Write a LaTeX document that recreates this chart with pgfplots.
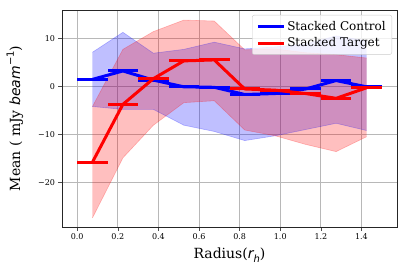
\documentclass[border=0pt]{standalone}
\usepackage{pgfplots}
\usepackage{pgfplotstable}
\pgfplotsset{compat=1.18}
\usepgfplotslibrary{fillbetween}
\usepackage{fontspec}
\setmainfont{DejaVu Serif}
\newfontfamily\dvs{DejaVu Sans}

\pgfplotstableread{
x mean upper lower
0.075  1.45  7.1  -4.2
0.225  3.2  11.25 -4.8
0.375  1.3   6.9  -4.8
0.525 -0.1   7.7  -8.1
0.675 -0.2   9.2  -9.4
0.825 -1.7   7.8 -11.3
0.975 -1.5   8.2 -10.3
1.125 -0.55  8.8  -9.0
1.275  1.2  10.5  -7.7
1.425 -0.1   9.5  -9.2
}\control

\pgfplotstableread{
x mean upper lower
0.075 -15.8  -4.2 -27.4
0.225  -3.75  7.7 -14.9
0.375   1.6  11.4  -8.1
0.525   5.3  13.8  -3.4
0.675   5.5  13.6  -3.0
0.825  -0.55  7.6  -9.1
0.975  -0.8   7.8 -10.3
1.125  -1.5   7.0 -12.1
1.275  -2.5   6.6 -13.6
1.425  -0.3   5.9 -10.5
}\target

\begin{document}
\begin{tikzpicture}
\begin{axis}[
  scale only axis,
  width=335pt, height=217pt,
  xmin=-0.075, xmax=1.575,
  ymin=-29.3, ymax=15.9,
  xtick={0,0.2,0.4,0.6,0.8,1.0,1.2,1.4},
  xticklabels={0.0,0.2,0.4,0.6,0.8,1.0,1.2,1.4},
  ytick={-20,-10,0,10},
  yticklabels={−20,−10,0,10},
  tick label style={font=\fontsize{8}{10}\selectfont},
  tick align=outside,
  major tick length=3.5pt,
  tick style={black!70, line width=0.6pt},
  xtick pos=bottom, ytick pos=left,
  axis line style={black!85, line width=0.8pt},
  grid=major,
  major grid style={color=black!28, line width=0.8pt},
  xlabel={Radius({\dvs\itshape r}\raisebox{-0.25em}{\fontsize{10}{10}\selectfont\dvs\itshape h})},
  ylabel={Mean ( mJy {\dvs\itshape beam}\raisebox{0.45em}{\fontsize{10}{10}\selectfont\dvs −1})},
  label style={font=\fontsize{14}{16}\selectfont},
  xlabel style={at={(axis description cs:0.5,0)}, anchor=center, yshift=-28pt},
  ylabel style={at={(axis description cs:0,0.5)}, anchor=center, rotate=0, yshift=47pt},
  legend style={at={(1,1)}, anchor=north east, xshift=-5pt, yshift=-5pt,
    draw=black!20, fill=white, fill opacity=0.8, text opacity=1,
    rounded corners=2pt, font=\fontsize{12}{14}\selectfont,
    inner xsep=4pt, inner ysep=4pt, row sep=2pt},
  legend cell align=left,
  legend image code/.code={\draw[line width=3pt] (0pt,0pt) -- (26pt,0pt);},
]
\addplot[name path=cu, blue, opacity=0.25, line width=0.6pt, forget plot] table[x=x,y=upper]{\control};
\addplot[name path=cl, blue, opacity=0.25, line width=0.6pt, forget plot] table[x=x,y=lower]{\control};
\addplot[blue, fill opacity=0.25, draw=none, forget plot] fill between[of=cu and cl];
\addplot[name path=tu, red, opacity=0.25, line width=0.6pt, forget plot] table[x=x,y=upper]{\target};
\addplot[name path=tl, red, opacity=0.25, line width=0.6pt, forget plot] table[x=x,y=lower]{\target};
\addplot[red, fill opacity=0.25, draw=none, forget plot] fill between[of=tu and tl];

\addplot[blue, line width=3pt, line join=round,
  error bars/.cd, x dir=both, x fixed=0.075, error mark=none,
  error bar style={line width=3pt}] table[x=x,y=mean]{\control};
\addlegendentry{Stacked Control}
\addplot[red, line width=3pt, line join=round,
  error bars/.cd, x dir=both, x fixed=0.075, error mark=none,
  error bar style={line width=3pt}] table[x=x,y=mean]{\target};
\addlegendentry{Stacked Target}
\end{axis}
\path ([shift={(-62pt,-46pt)}]current axis.south west) rectangle ([shift={(9pt,10pt)}]current axis.north east);
\end{tikzpicture}
\end{document}
